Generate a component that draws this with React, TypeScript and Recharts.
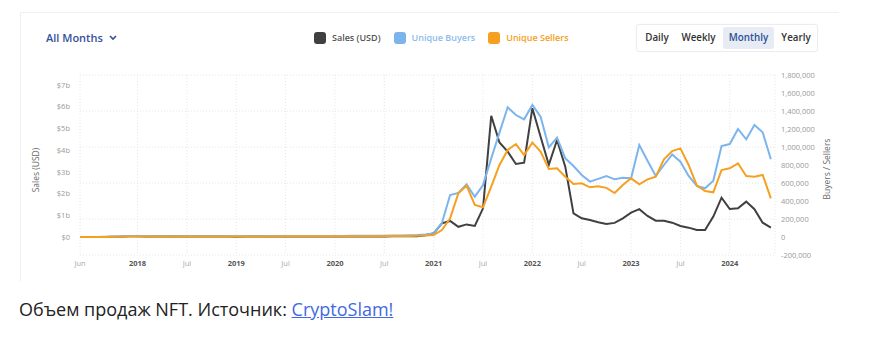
import React from "react";
import {
  LineChart,
  Line,
  XAxis,
  YAxis,
  CartesianGrid,
} from "recharts";

// NFT monthly market: sales (USD bn, left axis) vs unique buyers / sellers (thousands, right axis).
// Month index 0 = Jun 2017 ... 84 = Jun 2024.

const salesUsdBn = [
  // 2017 Jun-Dec
  0.002, 0.003, 0.004, 0.005, 0.006, 0.01, 0.03,
  // 2018
  0.03, 0.02, 0.02, 0.02, 0.03, 0.02, 0.02, 0.02, 0.02, 0.02, 0.02, 0.02,
  // 2019
  0.01, 0.02, 0.02, 0.02, 0.02, 0.02, 0.02, 0.02, 0.02, 0.02, 0.02, 0.02,
  // 2020
  0.02, 0.02, 0.02, 0.02, 0.02, 0.02, 0.02, 0.03, 0.04, 0.03, 0.04, 0.08,
  // 2021
  0.17, 0.63, 0.74, 0.47, 0.58, 0.51, 1.32, 5.58, 4.35, 3.93, 3.36, 3.42,
  // 2022
  5.93, 4.62, 3.32, 4.47, 3.24, 1.09, 0.86, 0.78, 0.68, 0.6, 0.65, 0.86,
  // 2023
  1.12, 1.28, 0.97, 0.75, 0.75, 0.66, 0.51, 0.43, 0.32, 0.32, 0.94, 1.81,
  // 2024 Jan-Jun
  1.29, 1.32, 1.63, 1.28, 0.66, 0.43,
];

const buyersK = [
  1, 1, 1, 2, 3, 8, 12,
  11, 10, 9, 8, 8, 7, 7, 8, 8, 9, 9, 9,
  9, 9, 9, 9, 10, 10, 10, 10, 11, 11, 12, 12,
  12, 12, 13, 13, 14, 15, 15, 16, 18, 20, 22, 28,
  40, 155, 467, 490, 585, 448, 578, 874, 1160, 1441, 1355, 1307,
  1467, 1337, 996, 1104, 874, 789, 689, 615, 646, 678, 641, 659,
  652, 1022, 848, 678, 800, 918, 837, 678, 567, 541, 626, 1011,
  1033, 1200, 1085, 1244, 1163, 863,
];

const sellersK = [
  0.5, 0.5, 1, 1, 2, 4, 6,
  6, 6, 5, 5, 5, 5, 5, 5, 5, 6, 6, 6,
  6, 6, 6, 6, 6, 6, 7, 7, 7, 7, 7, 8,
  8, 8, 8, 9, 9, 9, 10, 10, 11, 12, 13, 16,
  22, 78, 207, 485, 570, 356, 330, 559, 800, 967, 1033, 911,
  1048, 948, 756, 763, 670, 589, 596, 552, 563, 546, 489, 578,
  652, 585, 641, 670, 863, 955, 985, 800, 570, 511, 496, 744,
  763, 819, 678, 670, 689, 430,
];

const xTicks = [0, 7, 13, 19, 25, 31, 37, 43, 49, 55, 61, 67, 73, 79];
const xTickLabels = [
  "Jun", "2018", "Jul", "2019", "Jul", "2020", "Jul",
  "2021", "Jul", "2022", "Jul", "2023", "Jul", "2024",
];
const salesTicks = [0, 1, 2, 3, 4, 5, 6, 7];
const countTicks = [-200, 0, 200, 400, 600, 800, 1000, 1200, 1400, 1600, 1800];

const DARK = "#404040";
const BLUE = "#7cb5ec";
const ORANGE = "#f5a020";
const FONT = "'Open Sans', 'Noto Sans', sans-serif";

const data = salesUsdBn.map((s, i) => ({
  m: i,
  sales: s,
  buyers: buyersK[i],
  sellers: sellersK[i],
}));

function MonthTick({ x, y, payload }: any) {
  const idx = xTicks.indexOf(payload.value);
  const label = xTickLabels[idx] ?? "";
  const isYear = /^\d{4}$/.test(label);
  return (
    <text
      x={x}
      y={y}
      dy="0.71em"
      textAnchor="middle"
      fontSize={7.5}
      fontFamily={FONT}
      fontWeight={isYear ? 700 : 400}
      fill={isYear ? "#555" : "#aaa"}
    >
      {label}
    </text>
  );
}

function LegendItem({ color, text, textColor }: { color: string; text: string; textColor: string }) {
  return (
    <span style={{ display: "flex", alignItems: "center", marginRight: 13 }}>
      <span
        style={{
          width: 12,
          height: 12,
          borderRadius: 3,
          background: color,
          marginRight: 6,
          display: "inline-block",
        }}
      />
      <span style={{ color: textColor, fontSize: 9, fontWeight: 600 }}>{text}</span>
    </span>
  );
}

// button label + center x
const buttons = ["Daily", "Weekly", "Monthly", "Yearly"];
const buttonCenters = [657, 698.5, 748.5, 796];

export default function App() {
  return (
    <div
      style={{
        position: "absolute",
        left: 0,
        top: 0,
        width: 873,
        height: 359,
        background: "#fff",
        fontFamily: FONT,
        overflow: "hidden",
      }}
    >
      {/* card edge */}
      <div
        style={{
          position: "absolute",
          left: 20,
          top: 12,
          width: 818,
          height: 268,
          borderTop: "1px solid #f0f0f0",
          borderLeft: "1px solid #f0f0f0",
        }}
      />

      <div
        style={{
          position: "absolute",
          left: 46,
          top: 30,
          fontSize: 11,
          fontWeight: 600,
          color: "#36509a",
          display: "flex",
          alignItems: "center",
        }}
      >
        All Months
        <svg width="8" height="6" style={{ marginLeft: 6 }}>
          <path d="M1 1 L4 4 L7 1" fill="none" stroke="#36509a" strokeWidth="1.6" />
        </svg>
      </div>

      <div
        style={{
          position: "absolute",
          left: 314,
          top: 31,
          display: "flex",
          alignItems: "center",
        }}
      >
        <LegendItem color={DARK} text="Sales (USD)" textColor="#555" />
        <LegendItem color={BLUE} text="Unique Buyers" textColor="#8bbcef" />
        <LegendItem color={ORANGE} text="Unique Sellers" textColor={ORANGE} />
      </div>

      <div
        style={{
          position: "absolute",
          left: 636,
          top: 24,
          width: 182,
          height: 28,
          border: "1px solid #ececec",
          borderRadius: 3,
          boxSizing: "border-box",
          boxShadow: "0 0 2px rgba(0,0,0,0.04)",
        }}
      />
      <div
        style={{
          position: "absolute",
          left: 723,
          top: 27,
          width: 51,
          height: 22,
          borderRadius: 3,
          background: "#e6ebf4",
        }}
      />
      {buttons.map((b, i) => {
        const active = b === "Monthly";
        return (
          <div
            key={b}
            style={{
              position: "absolute",
              left: buttonCenters[i] - 30,
              width: 60,
              top: 30,
              textAlign: "center",
              fontSize: 9.8,
              lineHeight: "15px",
              fontWeight: 600,
              color: active ? "#2f4f96" : "#333",
            }}
          >
            {b}
          </div>
        );
      })}

      <div style={{ position: "absolute", left: 0, top: 0 }}>
        <LineChart
          width={873}
          height={280}
          data={data}
          margin={{ top: 75, right: 28, bottom: 5, left: 20 }}
        >
          <CartesianGrid
            yAxisId="right"
            stroke="#e6e6e6"
            strokeDasharray="1 2"
          />
          <XAxis
            dataKey="m"
            type="number"
            domain={[0, 84.5]}
            ticks={xTicks}
            interval={0}
            allowDataOverflow
            axisLine={false}
            tickLine={false}
            tickSize={0}
            tickMargin={6}
            height={20}
            tick={<MonthTick />}
          />
          <YAxis
            yAxisId="left"
            type="number"
            domain={[-0.829, 7.46]}
            ticks={salesTicks}
            allowDataOverflow
            width={60}
            axisLine={false}
            tickLine={false}
            tickSize={0}
            tickMargin={10}
            tick={{ fill: "#999", fontSize: 7.5, fontFamily: FONT }}
            tickFormatter={(v: number) => (v === 0 ? "$0" : `$${v}b`)}
          />
          <YAxis
            yAxisId="right"
            orientation="right"
            type="number"
            domain={[-200, 1800]}
            ticks={countTicks}
            allowDataOverflow
            width={70}
            axisLine={false}
            tickLine={false}
            tickSize={0}
            tickMargin={6}
            tick={{ fill: "#999", fontSize: 7.5, fontFamily: FONT, textAnchor: "start" }}
            tickFormatter={(v: number) => (v * 1000).toLocaleString("en-US")}
          />
          <Line
            yAxisId="left"
            dataKey="sales"
            stroke={DARK}
            strokeWidth={2}
            dot={false}
            isAnimationActive={false}
          />
          <Line
            yAxisId="right"
            dataKey="buyers"
            stroke={BLUE}
            strokeWidth={2}
            dot={false}
            isAnimationActive={false}
          />
          <Line
            yAxisId="right"
            dataKey="sellers"
            stroke={ORANGE}
            strokeWidth={2}
            dot={false}
            isAnimationActive={false}
          />
        </LineChart>
      </div>

      <div
        style={{
          position: "absolute",
          left: 35,
          top: 170,
          transform: "translate(-50%, -50%) rotate(-90deg)",
          fontSize: 8.5,
          color: "#666",
          whiteSpace: "nowrap",
        }}
      >
        Sales (USD)
      </div>
      <div
        style={{
          position: "absolute",
          left: 826,
          top: 169,
          transform: "translate(-50%, -50%) rotate(-90deg)",
          fontSize: 8.5,
          color: "#666",
          whiteSpace: "nowrap",
        }}
      >
        Buyers / Sellers
      </div>

      <div
        style={{
          position: "absolute",
          left: 19,
          top: 297,
          fontSize: 18,
          color: "#222",
          whiteSpace: "nowrap",
        }}
      >
        Объем продаж NFT. Источник:{" "}
        <a href="#" style={{ color: "#4169e1", textDecoration: "underline" }}>
          CryptoSlam!
        </a>
      </div>
    </div>
  );
}
